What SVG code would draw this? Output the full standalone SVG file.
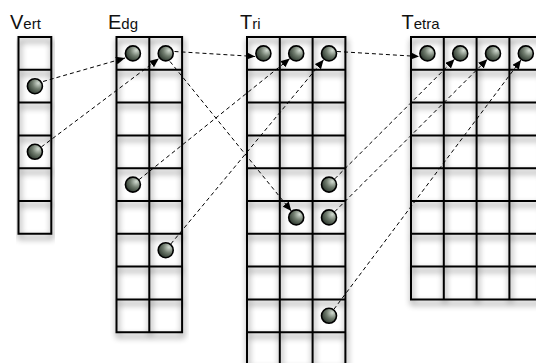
<svg xmlns="http://www.w3.org/2000/svg" width="536" height="363" viewBox="0 0 536 363">
<style>
.bg{fill:#fff}
.grid{fill:none;stroke:#000;stroke-width:2;stroke-linecap:square}
.big{font-family:"Liberation Sans",Arial,sans-serif;font-size:20px;fill:#111}
.sm{font-size:15px}
.dot{fill:url(#dotg);stroke:#000;stroke-width:1.6}
.conn{fill:none;stroke:#000;stroke-width:1;stroke-dasharray:4 3}
</style>
<defs>
<radialGradient id="dotg" cx="0.72" cy="0.3" r="0.85">
<stop offset="0" stop-color="#d2dbd1"/>
<stop offset="0.45" stop-color="#717d6f"/>
<stop offset="1" stop-color="#1e2920"/>
</radialGradient>
<filter id="sh" x="-10%" y="-10%" width="120%" height="120%">
<feGaussianBlur in="SourceAlpha" stdDeviation="3"/>
<feOffset dx="1" dy="4" result="b"/>
<feComponentTransfer><feFuncA type="linear" slope="0.6"/></feComponentTransfer>
<feMerge><feMergeNode/><feMergeNode in="SourceGraphic"/></feMerge>
</filter>
<marker id="ah" markerUnits="userSpaceOnUse" markerWidth="10" markerHeight="8" refX="9" refY="4" orient="auto">
<path d="M0,0 L9,4 L0,8 z" fill="#000"/>
</marker>
</defs>

<g id="vert">
<text class="big" x="10" y="29">V<tspan class="sm">ert</tspan></text>
<rect class="bg" x="18.5" y="37" width="32.8" height="196.8"/>
<path class="grid" filter="url(#sh)" d="M18.5,37V233.8M51.3,37V233.8M18.5,37H51.3M18.5,69.8H51.3M18.5,102.6H51.3M18.5,135.4H51.3M18.5,168.2H51.3M18.5,201H51.3M18.5,233.8H51.3"/>
<circle class="dot" cx="34.9" cy="86.2" r="7.5"/>
<circle class="dot" cx="34.9" cy="151.8" r="7.5"/>
</g>

<g id="edg">
<text class="big" x="108" y="29">E<tspan class="sm">dg</tspan></text>
<rect class="bg" x="116.5" y="37" width="65.6" height="295.2"/>
<path class="grid" filter="url(#sh)" d="M116.5,37V332.2M149.3,37V332.2M182.1,37V332.2M116.5,37H182.1M116.5,69.8H182.1M116.5,102.6H182.1M116.5,135.4H182.1M116.5,168.2H182.1M116.5,201H182.1M116.5,233.8H182.1M116.5,266.6H182.1M116.5,299.4H182.1M116.5,332.2H182.1"/>
<circle class="dot" cx="132.9" cy="53.4" r="7.5"/>
<circle class="dot" cx="165.7" cy="53.4" r="7.5"/>
<circle class="dot" cx="132.9" cy="184.6" r="7.5"/>
<circle class="dot" cx="165.7" cy="250.2" r="7.5"/>
</g>

<g id="tri">
<text class="big" x="240" y="29">T<tspan class="sm">ri</tspan></text>
<rect class="bg" x="247" y="37" width="98.4" height="328"/>
<path class="grid" filter="url(#sh)" d="M247,37V366M279.8,37V366M312.6,37V366M345.4,37V366M247,37H345.4M247,69.8H345.4M247,102.6H345.4M247,135.4H345.4M247,168.2H345.4M247,201H345.4M247,233.8H345.4M247,266.6H345.4M247,299.4H345.4M247,332.2H345.4M247,365H345.4"/>
<circle class="dot" cx="263.4" cy="53.4" r="7.5"/>
<circle class="dot" cx="296.2" cy="53.4" r="7.5"/>
<circle class="dot" cx="329" cy="53.4" r="7.5"/>
<circle class="dot" cx="329" cy="184.6" r="7.5"/>
<circle class="dot" cx="296.2" cy="217.4" r="7.5"/>
<circle class="dot" cx="329" cy="217.4" r="7.5"/>
<circle class="dot" cx="329" cy="315.8" r="7.5"/>
</g>

<g id="tetra">
<text class="big" x="401.5" y="29">T<tspan class="sm">etra</tspan></text>
<rect class="bg" x="411" y="37" width="131.2" height="262.4"/>
<path class="grid" filter="url(#sh)" d="M411,37V299.4M443.8,37V299.4M476.6,37V299.4M509.4,37V299.4M542.2,37V299.4M411,37H542.2M411,69.8H542.2M411,102.6H542.2M411,135.4H542.2M411,168.2H542.2M411,201H542.2M411,233.8H542.2M411,266.6H542.2M411,299.4H542.2"/>
<circle class="dot" cx="427.4" cy="53.4" r="7.5"/>
<circle class="dot" cx="460.2" cy="53.4" r="7.5"/>
<circle class="dot" cx="493" cy="53.4" r="7.5"/>
<circle class="dot" cx="525.8" cy="53.4" r="7.5"/>
</g>

<g id="connectors">
<path class="conn" marker-end="url(#ah)" d="M43,81.5L125,58"/>
<path class="conn" marker-end="url(#ah)" d="M41.3,147L158.8,58.6"/>
<path class="conn" marker-end="url(#ah)" d="M174.5,51.5L255,56.5"/>
<path class="conn" marker-end="url(#ah)" d="M170,61.5L291.3,211"/>
<path class="conn" marker-end="url(#ah)" d="M139.1,179.6L289.8,58.6"/>
<path class="conn" marker-end="url(#ah)" d="M170.8,244L323.6,59.8"/>
<path class="conn" marker-end="url(#ah)" d="M337,51.5L419,56.5"/>
<path class="conn" marker-end="url(#ah)" d="M334.7,178.9L454.5,59.3"/>
<path class="conn" marker-end="url(#ah)" d="M334.7,211.7L487.3,59.3"/>
<path class="conn" marker-end="url(#ah)" d="M333.8,309.4L521,60"/>
</g>
</svg>
